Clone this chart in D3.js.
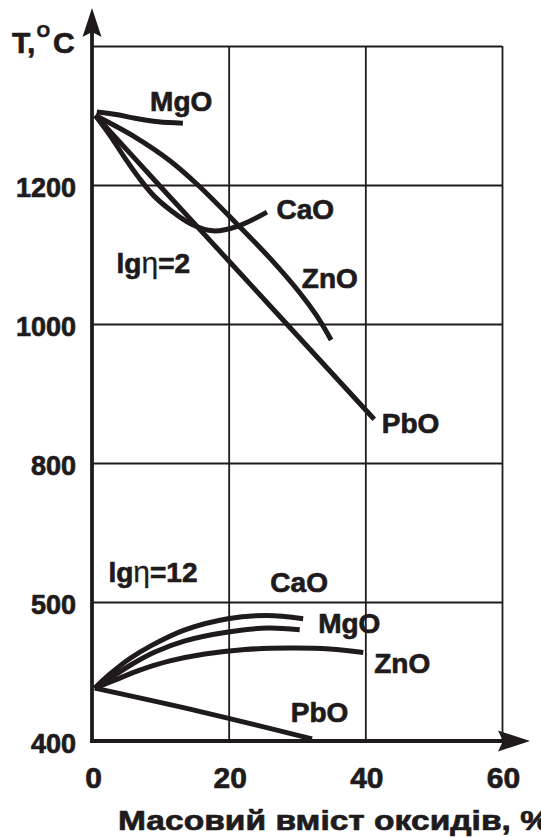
<!DOCTYPE html>
<html>
<head>
<meta charset="utf-8">
<script src="https://cdn.jsdelivr.net/npm/d3@7"></script>
<style>
  html, body { margin: 0; padding: 0; background: #ffffff; }
  svg { display: block; font-family: "Liberation Sans", Arial, Helvetica, sans-serif; }
</style>
</head>
<body>
<svg id="chart" width="541" height="837"></svg>
<script>
// ---- axis ticks ----
const xTicks = [0, 20, 40, 60];
const yTicks = [400, 500, 800, 1000, 1200];
const yGridLevels = [500, 800, 1000, 1200, 1400];
// broken temperature axis: these levels are spaced evenly
const yBreaks = [400, 500, 800, 1000, 1200, 1400];

// ---- lg η = 2 (melt, upper group) ----
const mgoHighX = [0.7, 3.8, 6.3, 9.7, 13.3];
const mgoHighY = [1305, 1301, 1296, 1291, 1289];
const caoHighX = [0.5, 2.8, 4.8, 6.9, 9.1, 11.6, 14.5, 17.7, 21.4, 25.6];
const caoHighY = [1300, 1269, 1239, 1210, 1184, 1163, 1144, 1134, 1141, 1161];
const znoHighX = [0.5, 6.3, 11.4, 15.5, 21.2, 26.1, 30.4, 32.8, 35.0];
const znoHighY = [1300, 1269, 1235, 1200, 1144, 1094, 1045, 1013, 977];
const pboHighX = [0.5, 9.9, 19.9, 28.5, 41.3];
const pboHighY = [1300, 1199, 1092, 1000, 863];

// ---- lg η = 12 (glass, lower group) ----
const caoLowX = [0.4, 2.6, 5.6, 8.8, 13.6, 19.9, 25.6, 30.9];
const caoLowY = [438, 448, 459.5, 469, 480, 488, 490.3, 488];
const mgoLowX = [0.4, 2.9, 5.9, 9.2, 13.6, 19.9, 25.8, 30.4];
const mgoLowY = [438, 446, 455.4, 464, 472, 478.4, 481.3, 480];
const znoLowX = [0.4, 3.4, 7.0, 11.4, 16.5, 22.4, 29.0, 34.8, 39.7];
const znoLowY = [438, 444, 451, 457.6, 462.6, 465.8, 466.9, 466.2, 463.7];
const pboLowX = [0.4, 16.0, 32.2];
const pboLowY = [438, 421, 401.5];

// ---- annotations (anchored in data units) ----
const labelText = ["MgO", "CaO", "ZnO", "PbO", "CaO", "MgO", "ZnO", "PbO"];
const labelX    = [8.5, 27.0, 30.7, 42.4, 26.1, 33.1, 41.3, 29.1];
const labelY    = [1306.5, 1150.6, 1051.4, 842.7, 522.2, 477.7, 448.9, 413.9];
const groupNames = ["2", "12"];
const groupX = [3.6, 2.4];
const groupY = [1073.8, 543.8];

const INK = "#1f1b1c";
const svg = d3.select("#chart");

// ---- scales ----
const x = d3.scaleLinear().domain([0, 60]).range([92, 502]);
const yBottom = 741, yStep = 139;
const y = d3.scaleLinear()
  .domain(yBreaks)
  .range(yBreaks.map((d, i) => yBottom - i * yStep));

const plotLeft = x(0), plotRight = x(60);
const plotTop = y(1400), plotBottom = y(400);

// ---- grid ----
const gridH = svg.append("g").attr("transform", `translate(${plotLeft},0)`)
  .call(d3.axisRight(y).tickValues(yGridLevels).tickSize(plotRight - plotLeft).tickFormat(""));
const gridV = svg.append("g").attr("transform", `translate(0,${plotTop})`)
  .call(d3.axisBottom(x).tickValues([20, 40, 60]).tickSize(plotBottom - plotTop).tickFormat(""));
[gridH, gridV].forEach(g => {
  g.select(".domain").remove();
  g.selectAll(".tick line").attr("stroke", INK).attr("stroke-width", 1.8);
});

// ---- curves ----
const zip = (xs, ys) => xs.map((v, i) => [v, ys[i]]);
const series = [
  zip(mgoHighX, mgoHighY), zip(caoHighX, caoHighY),
  zip(znoHighX, znoHighY), zip(pboHighX, pboHighY),
  zip(caoLowX, caoLowY), zip(mgoLowX, mgoLowY),
  zip(znoLowX, znoLowY), zip(pboLowX, pboLowY)
];
const line = d3.line()
  .x(d => x(d[0])).y(d => y(d[1]))
  .curve(d3.curveCatmullRom.alpha(0.5));
svg.append("g").selectAll("path").data(series).join("path")
  .attr("d", line)
  .attr("fill", "none")
  .attr("stroke", INK)
  .attr("stroke-width", 5)
  .attr("stroke-linejoin", "round");

// ---- axis lines with arrows ----
svg.append("line")
  .attr("x1", plotLeft).attr("x2", plotLeft)
  .attr("y1", plotBottom + 2).attr("y2", 30)
  .attr("stroke", INK).attr("stroke-width", 3.8);
svg.append("line")
  .attr("x1", plotLeft - 2).attr("x2", 512)
  .attr("y1", plotBottom).attr("y2", plotBottom)
  .attr("stroke", INK).attr("stroke-width", 3.8);
svg.append("path")
  .attr("d", `M${plotLeft},8 L${plotLeft + 9.5},37 L${plotLeft},32 L${plotLeft - 9.5},37 Z`)
  .attr("fill", INK);
svg.append("path")
  .attr("d", `M530,${plotBottom} L498,${plotBottom - 10.5} L503,${plotBottom} L498,${plotBottom + 10.5} Z`)
  .attr("fill", INK);

// heavier lettering: a thin outline in the ink colour
const heavy = sel => sel.attr("stroke", INK).attr("stroke-width", 0.7).attr("stroke-linejoin", "round");

// ---- tick labels ----
const yAxis = svg.append("g").attr("transform", `translate(76,0)`)
  .call(d3.axisLeft(y).tickValues(yTicks).tickSize(0).tickPadding(0).tickFormat(d3.format("d")));
yAxis.select(".domain").remove();
yAxis.selectAll("text")
  .attr("x", 0).attr("dy", null).attr("y", 11.7)
  .attr("text-anchor", "end")
  .attr("fill", INK)
  .style("font-family", "'Liberation Sans', Arial, sans-serif")
  .style("font-size", "27px").style("font-weight", "bold")
  .call(heavy);

const xAxis = svg.append("g").attr("transform", `translate(1,788)`)
  .call(d3.axisBottom(x).tickValues(xTicks).tickSize(0).tickPadding(0).tickFormat(d3.format("d")));
xAxis.select(".domain").remove();
xAxis.selectAll("text")
  .attr("y", 0).attr("dy", null)
  .attr("fill", INK)
  .style("font-family", "'Liberation Sans', Arial, sans-serif")
  .style("font-size", "30px").style("font-weight", "bold")
  .call(heavy);

// ---- axis titles ----
const tTitle = svg.append("text")
  .attr("x", 12).attr("y", 53)
  .attr("fill", INK).attr("font-weight", "bold").attr("font-size", 30)
  .call(heavy);
tTitle.append("tspan").text("T,");
tTitle.append("tspan").attr("font-size", 17).attr("dx", 1.5).attr("dy", -16).text("O");
tTitle.append("tspan").attr("dx", 3).attr("dy", 16).text("C");

svg.append("text")
  .attr("x", 118).attr("y", 830)
  .attr("fill", INK).attr("font-weight", "bold").attr("font-size", 28)
  .attr("textLength", 432).attr("lengthAdjust", "spacingAndGlyphs")
  .call(heavy)
  .text("Масовий вміст оксидів, %");

// ---- curve labels ----
svg.append("g").selectAll("text").data(labelText).join("text")
  .attr("x", (d, i) => x(labelX[i]))
  .attr("y", (d, i) => y(labelY[i]))
  .attr("fill", INK).attr("font-weight", "bold").attr("font-size", 28)
  .call(heavy)
  .text(d => d);

// ---- viscosity level labels ----
groupNames.forEach((g, i) => {
  const t = svg.append("text")
    .attr("x", x(groupX[i])).attr("y", y(groupY[i]))
    .attr("fill", INK).attr("font-weight", "bold").attr("font-size", 28)
    .call(heavy);
  t.append("tspan").text("lg");
  t.append("tspan").attr("font-weight", "normal").attr("font-size", 30).attr("stroke-width", 0.3).text("η");
  t.append("tspan").text("=" + g);
});
</script>
</body>
</html>
